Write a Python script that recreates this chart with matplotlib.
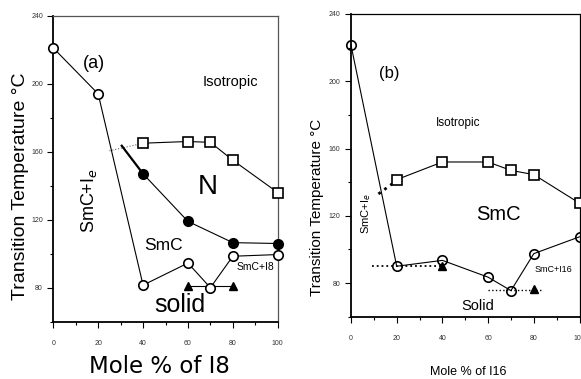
import matplotlib
matplotlib.use("Agg")
import matplotlib.pyplot as plt
from matplotlib.ticker import MultipleLocator

# ---------------- data ----------------
# panel (a): mole % of I8
xa_circ = [0, 20, 40, 60, 70, 80, 100]
ta_circ = [221, 194, 81.5, 94.5, 80, 98.5, 99.5]
xa_fill = [40, 60, 80, 100]
ta_fill = [147, 119, 106.5, 106]
xa_sq = [40, 60, 70, 80, 100]
ta_sq = [165, 166, 165.5, 155, 136]
xa_tri = [60, 80]
ta_tri = [80.8, 80.8]
xa_dot = [25, 40]
ta_dot = [160.5, 165]
xa_thick = [30.5, 40]
ta_thick = [163.5, 147]

# panel (b): mole % of I16
xb_circ = [0, 20, 40, 60, 70, 80, 100]
tb_circ = [221.5, 90, 93.5, 83.5, 75.5, 97.5, 107.5]
xb_sq = [20, 40, 60, 70, 80, 100]
tb_sq = [141.5, 152, 152, 147, 144.5, 127.5]
xb_tri = [40, 80]
tb_tri = [90, 76.5]
xb_dot1 = [9, 40]
tb_dot1 = [90, 90]
xb_dot2 = [60, 84]
tb_dot2 = [76, 76]
xb_thick = [12, 20]
tb_thick = [133, 141]

xticks = [0, 20, 40, 60, 80, 100]
yticks = [80, 120, 160, 200, 240]

NARROW = ['Liberation Sans Narrow', 'Liberation Sans', 'DejaVu Sans']
ARIAL = ['Liberation Sans', 'DejaVu Sans']

W, H = 581, 379
fig = plt.figure(figsize=(W / 100, H / 100), dpi=100)

def px_axes(l, r, t, b):
    return fig.add_axes([l / W, 1 - b / H, (r - l) / W, (b - t) / H])

axa = px_axes(53.3, 277.7, 15.7, 321.7)
axb = px_axes(351, 579.5, 14, 316.7)

ms = 6.8
mew = 1.2

def style(ax, topcol):
    ax.set_xlim(0, 100)
    ax.set_ylim(60, 240)
    ax.set_xticks(xticks)
    ax.set_yticks(yticks)
    ax.xaxis.set_minor_locator(MultipleLocator(10))
    ax.yaxis.set_minor_locator(MultipleLocator(20))
    ax.tick_params(which='major', direction='out', length=4.5, width=0.8,
                   labelsize=5, labelcolor='#333333')
    ax.tick_params(which='minor', direction='out', length=2.5, width=0.8)
    ax.tick_params(axis='x', which='major', pad=9)
    ax.tick_params(axis='y', which='major', pad=3)
    for lab in ax.get_xticklabels() + ax.get_yticklabels():
        lab.set_family(NARROW)
    for s in ['left', 'bottom']:
        ax.spines[s].set_linewidth(1.3)
        ax.spines[s].set_color('black')
    for s in ['top', 'right']:
        ax.spines[s].set_linewidth(0.9)
        ax.spines[s].set_color(topcol)

style(axa, '#555555')
style(axb, 'black')

# ---- panel (a) ----
axa.plot(xa_dot, ta_dot, ls=':', color='#666666', lw=0.8)
axa.plot(xa_thick, ta_thick, color='black', lw=1.6)
axa.plot(xa_circ, ta_circ, color='black', lw=0.8, marker='o', ms=ms,
         mfc='white', mec='black', mew=mew, clip_on=False, zorder=3)
axa.plot(xa_fill, ta_fill, color='black', lw=0.8, marker='o', ms=ms,
         mfc='black', mec='black', mew=mew, clip_on=False, zorder=3)
axa.plot(xa_sq, ta_sq, color='black', lw=0.8, marker='s', ms=ms,
         mfc='white', mec='black', mew=mew, clip_on=False, zorder=3)
axa.plot(xa_tri, ta_tri, color='black', lw=0.8, marker='^', ms=5.5,
         mfc='black', mec='black', zorder=2)

axa.text(18, 212, '(a)', fontsize=13, family=NARROW, ha='center', va='center')
axa.text(79, 201, 'Isotropic', fontsize=10.5, family=NARROW, ha='center', va='center')
axa.text(69, 139, 'N', fontsize=20, family=NARROW, ha='center', va='center')
axa.text(49, 105, 'SmC', fontsize=12.5, family=NARROW, ha='center', va='center')
axa.text(90, 92, 'SmC+I8', fontsize=7.5, family=NARROW, ha='center', va='center')
axa.text(56.5, 70, 'solid', fontsize=18, family=ARIAL, ha='center', va='center')
axa.text(15.9, 131, 'SmC+I$_e$', fontsize=13, family=ARIAL, rotation=90,
         ha='center', va='center')

axa.set_xlabel('Mole % of I8', fontsize=16.5, family='DejaVu Sans')
axa.xaxis.set_label_coords(0.475, -0.148)
axa.xaxis.label.set_va('center')
axa.set_ylabel('Transition Temperature °C', fontsize=14, family=ARIAL)
axa.yaxis.set_label_coords(-0.148, 0.443)
axa.yaxis.label.set_va('center')

# ---- panel (b) ----
axb.plot(xb_dot1, tb_dot1, ls=':', color='black', lw=1.3)
axb.plot(xb_dot2, tb_dot2, ls=':', color='black', lw=1.0)
axb.plot(xb_thick, tb_thick, ls=':', color='black', lw=2.0)
axb.plot(xb_circ, tb_circ, color='black', lw=0.8, marker='o', ms=ms,
         mfc='none', mec='black', mew=mew, clip_on=False, zorder=3)
axb.plot(xb_sq, tb_sq, color='black', lw=0.8, marker='s', ms=ms,
         mfc='white', mec='black', mew=mew, clip_on=False, zorder=3)
axb.plot(xb_tri, tb_tri, ls='none', marker='^', ms=5.5, mfc='black',
         mec='black', zorder=2)

axb.text(16.6, 204.6, '(b)', fontsize=12, family=NARROW, ha='center', va='center')
axb.text(47, 175, 'Isotropic', fontsize=8.5, family=NARROW, ha='center', va='center')
axb.text(64.5, 121, 'SmC', fontsize=14.5, family=ARIAL, ha='center', va='center')
axb.text(88.6, 88, 'SmC+I16', fontsize=6.5, family=NARROW, ha='center', va='center')
axb.text(55.4, 66.5, 'Solid', fontsize=10.5, family=NARROW, ha='center', va='center')
axb.text(6.6, 121.5, 'SmC+I$_e$', fontsize=8, family=ARIAL, rotation=90,
         ha='center', va='center')

axb.set_xlabel('Mole % of I16', fontsize=9, family=NARROW)
axb.xaxis.set_label_coords(0.513, -0.183)
axb.xaxis.label.set_va('center')
axb.set_ylabel('Transition Temperature °C', fontsize=11, family=ARIAL)
axb.yaxis.set_label_coords(-0.149, 0.362)
axb.yaxis.label.set_va('center')

fig.savefig('out.png', dpi=100)
